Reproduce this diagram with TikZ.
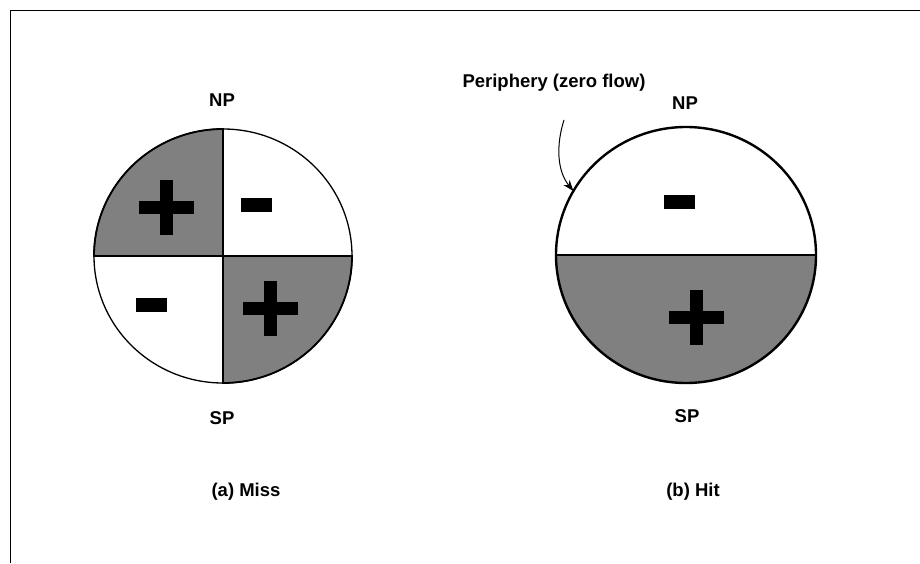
\documentclass[tikz,border=0pt]{standalone}
\usepackage{fontspec}
\setmainfont{Liberation Sans}
\usepackage{tikz}
\usetikzlibrary{arrows.meta, positioning, calc}
\tikzset{
    pole/.style={font=\fontsize{18.5}{22}\selectfont\bfseries, inner sep=1pt},
    caption/.style={font=\fontsize{18.5}{22}\selectfont\bfseries, inner sep=1pt},
    signminus/.style={rectangle, fill=black, minimum width=31pt, minimum height=14pt, inner sep=0pt},
    signplush/.style={rectangle, fill=black, minimum width=55pt, minimum height=13pt, inner sep=0pt},
    signplusv/.style={rectangle, fill=black, minimum width=13pt, minimum height=55pt, inner sep=0pt},
    quadrant/.style={fill=black!50, draw=black, line width=1.8pt},
    arrow/.style={-{Stealth[length=11pt, width=8pt]}, line width=1pt},
}

\begin{document}
\begin{tikzpicture}[x=1pt, y=1pt]
    \useasboundingbox (0,0) rectangle (920,563);
    % frame
    \draw[line width=1pt] (10.5,0) -- (10.5,552.5) -- (920,552.5);

    % (a) Miss
    \coordinate (missc) at (223,307);
    \path[quadrant] (missc) -- ++(-129,0) arc[start angle=180, end angle=90, x radius=129, y radius=127] -- cycle;
    \path[quadrant] (missc) -- ++(129,0) arc[start angle=0, end angle=-90, x radius=129, y radius=127] -- cycle;
    \draw[line width=1.3pt] (missc) ellipse[x radius=129, y radius=127];
    \draw[line width=1.8pt] ($(missc)+(-129,0)$) -- ($(missc)+(129,0)$);
    \draw[line width=1.8pt] ($(missc)+(0,127)$) -- ($(missc)+(0,-127)$);
    \node[signplush] (plustl) at (166,355) {};
    \node[signplusv] at (plustl) {};
    \node[signminus] (minustr) at (256.5,357.5) {};
    \node[signminus] (minusbl) at (151.5,258.5) {};
    \node[signplush] (plusbr) at (270,255) {};
    \node[signplusv] at (plusbr) {};
    \node[pole] (npmiss) at (222,463) {NP};
    \node[pole] (spmiss) at (222,145) {SP};
    \node[caption] (capmiss) at (246,71) {(a) Miss};

    % (b) Hit
    \coordinate (hitc) at (686,308);
    \path[fill=black!50] (hitc) ++(-130,0) arc[start angle=180, end angle=360, x radius=130, y radius=128] -- cycle;
    \draw[line width=2.4pt] (hitc) ellipse[x radius=130, y radius=128];
    \draw[line width=2pt] ($(hitc)+(-130,0)$) -- ($(hitc)+(130,0)$);
    \node[signminus] (minustop) at (679.5,360.5) {};
    \node[signplush] (plusbot) at (696,246) {};
    \node[signplusv] at (plusbot) {};
    \node[pole] (nphit) at (685,460) {NP};
    \node[pole] (sphit) at (687,147) {SP};
    \node[caption] (caphit) at (693,71) {(b) Hit};

    % periphery label and arrow
    \node[caption] (peri) at (554,480) {Periphery (zero flow)};
    \coordinate (peristart) at (564,443);
    \coordinate (peririm) at ($(hitc)+(150:130 and 128)$);
    \draw[arrow] (peristart) .. controls (556,418) and (557,392) .. (peririm);
\end{tikzpicture}
\end{document}
